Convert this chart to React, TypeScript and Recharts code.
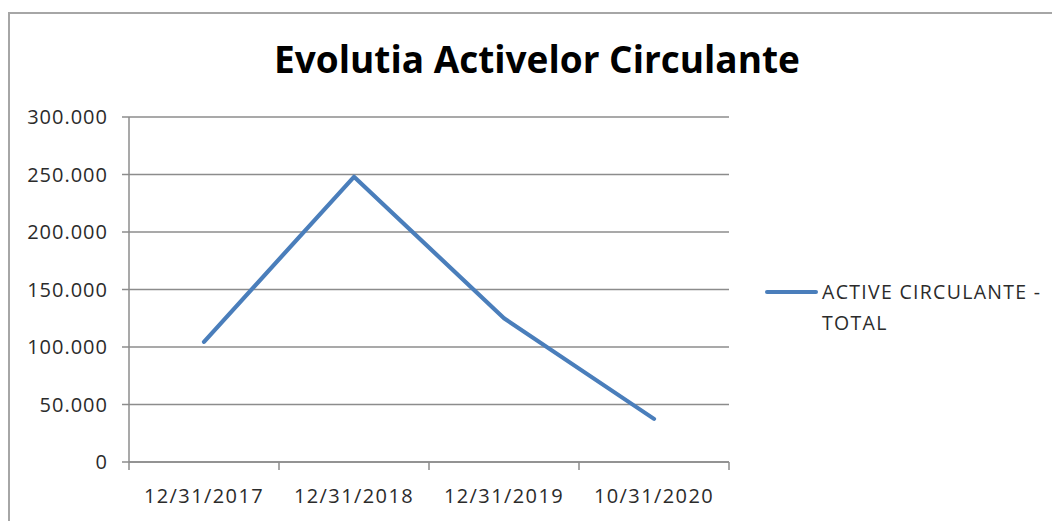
import React from 'react';
import { LineChart, Line, XAxis, YAxis, CartesianGrid, Legend } from 'recharts';

const title = 'Evolutia Activelor Circulante';
const categories = ['12/31/2017', '12/31/2018', '12/31/2019', '10/31/2020'];
const activeCirculanteTotal = [104500, 248000, 125000, 37500];
const yTicks = [0, 50000, 100000, 150000, 200000, 250000, 300000];
const seriesName = 'ACTIVE CIRCULANTE - TOTAL';
const legendLines = ['ACTIVE CIRCULANTE -', 'TOTAL'];

// category slot boundaries (0..n) and slot centres (i + 0.5)
const slotBounds = categories.map((_, i) => i).concat([categories.length]);

const data = categories.map((c, i) => ({
  date: c,
  slot: i + 0.5,
  value: activeCirculanteTotal[i],
}));

const LINE_COLOR = '#4A7EBB';
const GRID_COLOR = '#8C8C8C';
const TEXT_COLOR = '#2b2b2b';
const FONT = '"Open Sans", "Noto Sans", sans-serif';

const fmt = (v: number) => (v === 0 ? '0' : v.toLocaleString('de-DE'));
const catLabel = (_: any, i: number) => categories[i];

const NoLabel = () => <g />;

const LegendContent = () => (
  <div style={{ display: 'flex', alignItems: 'flex-start', fontFamily: FONT, fontSize: 19.5, color: TEXT_COLOR, letterSpacing: 1.3 }}>
    <div style={{ width: 53, height: 4, background: LINE_COLOR, marginTop: 14, borderRadius: 2 }} />
    <div style={{ marginLeft: 4, lineHeight: '31px', whiteSpace: 'nowrap' }}>
      {legendLines.map((l) => (
        <div key={l}>{l}</div>
      ))}
    </div>
  </div>
);

export default function App() {
  return (
    <div style={{ position: 'fixed', left: 0, top: 0, width: 1052, height: 521, overflow: 'hidden', background: '#fff' }}>
      <div style={{ position: 'absolute', left: 8, top: 12, width: 1200, height: 700, border: '2px solid #a6a6a6', boxSizing: 'border-box' }} />
      <svg style={{ position: 'absolute', left: 0, top: 0 }} width={1052} height={100}>
        <text x={537} y={73} textAnchor="middle" fontFamily={FONT} fontWeight={700} fontSize={37} fill="#000">
          {title}
        </text>
      </svg>
      <div style={{ position: 'absolute', left: 0, top: 0 }}>
        <LineChart width={1052} height={521} data={data} margin={{ top: 117, right: 323, left: 0, bottom: 18 }}>
          <CartesianGrid vertical={false} stroke={GRID_COLOR} strokeWidth={1.5} />
          <XAxis
            type="number"
            dataKey="slot"
            domain={[0, categories.length]}
            ticks={slotBounds}
            allowDataOverflow
            height={1}
            tick={NoLabel}
            tickSize={8}
            axisLine={{ stroke: GRID_COLOR, strokeWidth: 1.5 }}
            tickLine={{ stroke: GRID_COLOR, strokeWidth: 1.5 }}
          />
          <XAxis
            xAxisId="labels"
            dataKey="date"
            height={40}
            padding={{ left: 75, right: 75 }}
            axisLine={false}
            tickLine={false}
            tickSize={0}
            tickMargin={26}
            interval={0}
            tickFormatter={catLabel}
            tick={{ fill: TEXT_COLOR, fontSize: 20, fontFamily: FONT, letterSpacing: 1.4 }}
          />
          <YAxis
            width={129}
            domain={[0, 300000]}
            ticks={yTicks}
            tickFormatter={fmt}
            tickSize={7}
            tickMargin={14}
            axisLine={{ stroke: GRID_COLOR, strokeWidth: 1.5 }}
            tickLine={{ stroke: GRID_COLOR, strokeWidth: 1.5 }}
            tick={{ fill: TEXT_COLOR, fontSize: 20, fontFamily: FONT, letterSpacing: 1 }}
          />
          <Legend
            layout="vertical"
            align="center"
            verticalAlign="middle"
            content={LegendContent}
            wrapperStyle={{ position: 'absolute', left: 765, top: 276, width: 287 }}
          />
          <Line
            type="linear"
            dataKey="value"
            name={seriesName}
            stroke={LINE_COLOR}
            strokeWidth={4.2}
            strokeLinecap="round"
            strokeLinejoin="round"
            dot={false}
            activeDot={false}
            isAnimationActive={false}
          />
        </LineChart>
      </div>
    </div>
  );
}
